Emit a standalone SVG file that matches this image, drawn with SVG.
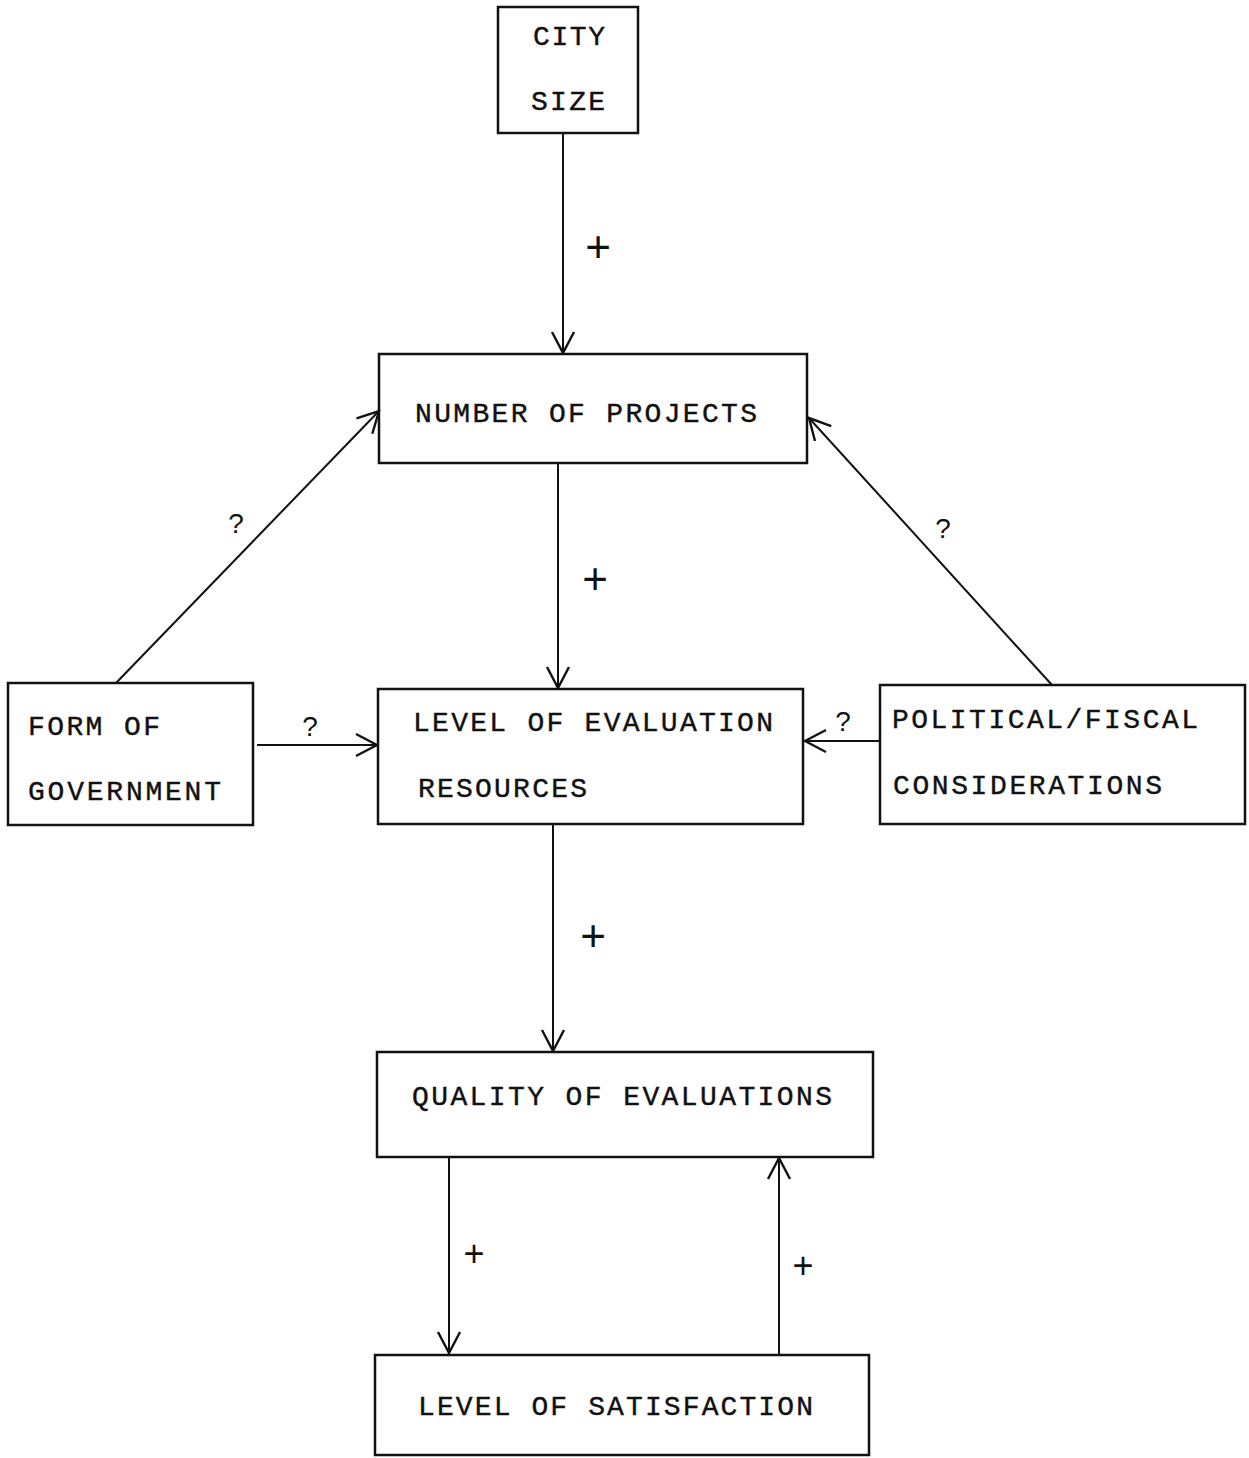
<svg xmlns="http://www.w3.org/2000/svg" width="1249" height="1458" viewBox="0 0 1249 1458">
<style>
.box{fill:none;stroke:#111;stroke-width:2.5}
.t{font-family:"Liberation Mono","Courier New",monospace;font-size:28px;fill:#111;stroke:#111;stroke-width:0.4}
.c{fill:none;stroke:#111;stroke-width:2}
.s{font-family:"Liberation Sans",Arial,sans-serif;fill:#111}
</style>
<defs>
<marker id="v" viewBox="0 0 26 26" refX="24" refY="13" markerWidth="26" markerHeight="26" markerUnits="userSpaceOnUse" orient="auto">
<path d="M3,2 L24,13 L3,24" fill="none" stroke="#111" stroke-width="2.4"/>
</marker>
</defs>
<rect width="1249" height="1458" fill="#fff"/>
<g id="city-size">
<rect class="box" x="498" y="7" width="140" height="126"/>
<text class="t" x="533" y="45" textLength="72" lengthAdjust="spacing">CITY</text>
<text class="t" x="531" y="110" textLength="74" lengthAdjust="spacing">SIZE</text>
</g>
<g id="number-of-projects">
<rect class="box" x="379" y="354" width="428" height="109"/>
<text class="t" x="415" y="422" textLength="342" lengthAdjust="spacing">NUMBER OF PROJECTS</text>
</g>
<g id="form-of-government">
<rect class="box" x="8" y="683" width="245" height="142"/>
<text class="t" x="28" y="735" textLength="132" lengthAdjust="spacing">FORM OF</text>
<text class="t" x="28" y="800" textLength="193" lengthAdjust="spacing">GOVERNMENT</text>
</g>
<g id="level-of-evaluation-resources">
<rect class="box" x="378" y="689" width="425" height="135"/>
<text class="t" x="413" y="731" textLength="360" lengthAdjust="spacing">LEVEL OF EVALUATION</text>
<text class="t" x="418" y="797" textLength="169" lengthAdjust="spacing">RESOURCES</text>
</g>
<g id="political-fiscal">
<rect class="box" x="880" y="685" width="365" height="139"/>
<text class="t" x="892" y="728" textLength="306" lengthAdjust="spacing">POLITICAL/FISCAL</text>
<text class="t" x="893" y="794" textLength="269" lengthAdjust="spacing">CONSIDERATIONS</text>
</g>
<g id="quality-of-evaluations">
<rect class="box" x="377" y="1052" width="496" height="105"/>
<text class="t" x="412" y="1105" textLength="420" lengthAdjust="spacing">QUALITY OF EVALUATIONS</text>
</g>
<g id="level-of-satisfaction">
<rect class="box" x="375" y="1355" width="494" height="100"/>
<text class="t" x="418" y="1415" textLength="395" lengthAdjust="spacing">LEVEL OF SATISFACTION</text>
</g>
<g id="connectors">
<line class="c" x1="563" y1="133" x2="563" y2="353" marker-end="url(#v)"/>
<line class="c" x1="558" y1="463" x2="558" y2="688" marker-end="url(#v)"/>
<line class="c" x1="553" y1="824" x2="553" y2="1051" marker-end="url(#v)"/>
<line class="c" x1="449" y1="1157" x2="449" y2="1353" marker-end="url(#v)"/>
<line class="c" x1="779" y1="1355" x2="779" y2="1158" marker-end="url(#v)"/>
<line class="c" x1="116" y1="683" x2="379" y2="411" marker-end="url(#v)"/>
<line class="c" x1="1052" y1="685" x2="809" y2="418" marker-end="url(#v)" stroke-width="1.5"/>
<line class="c" x1="257" y1="745" x2="377" y2="745" marker-end="url(#v)"/>
<line class="c" x1="880" y1="741" x2="805" y2="741" marker-end="url(#v)"/>
<text class="s" x="598" y="262" font-size="44" text-anchor="middle">+</text>
<text class="s" x="595" y="594" font-size="44" text-anchor="middle">+</text>
<text class="s" x="593" y="951" font-size="44" text-anchor="middle">+</text>
<text class="s" x="474" y="1266" font-size="36" text-anchor="middle">+</text>
<text class="s" x="803" y="1278" font-size="36" text-anchor="middle">+</text>
<text class="s" x="236" y="533" font-size="28" text-anchor="middle">?</text>
<text class="s" x="943" y="538" font-size="28" text-anchor="middle">?</text>
<text class="s" x="310" y="736" font-size="28" text-anchor="middle">?</text>
<text class="s" x="843" y="731" font-size="28" text-anchor="middle">?</text>
</g>
</svg>
